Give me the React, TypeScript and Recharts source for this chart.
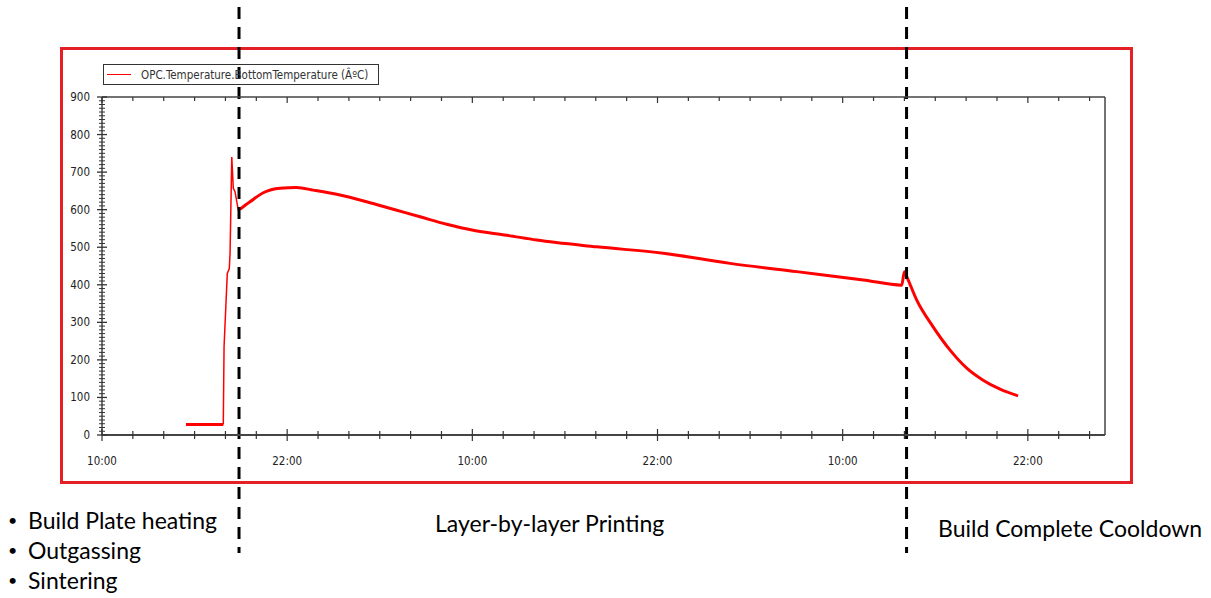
import { LineChart, Line, XAxis, YAxis, ReferenceLine, Legend } from "recharts";

// hours since 10:00 on day one
const flatHours = [5.44, 7.86];
const flatTemp = [28, 28];

const rampHours = [7.86, 7.91, 8.12, 8.25, 8.3, 8.41, 8.51, 8.62, 8.83, 8.94];
const rampTemp = [28, 235, 430, 443, 485, 740, 657, 648, 599, 601];

const buildHours = [
  8.94, 9.59, 10.45, 11.54, 12.62, 13.69, 15.42, 17.15, 18.88, 20.61, 22.34,
  24.06, 26.23, 28.17, 32.06, 36.38, 40.7, 45.02, 49.34, 51.83, 52.0, 52.15,
  52.8, 53.86, 54.96, 56.04, 57.1, 58.2, 59.37,
];
const buildTemp = [
  601, 621, 645, 657, 659, 652, 639, 621, 601, 581, 561, 545, 532, 519, 501,
  484, 457, 435, 413, 399, 435, 422, 359, 288, 226, 178, 146, 122, 104,
];

const phaseMarks = [8.88, 52.14];
const clockLabels = ["10:00", "22:00"];
const hourTicks = Array.from({ length: 33 }, (_, i) => i * 2);
const tempTicks = Array.from({ length: 91 }, (_, i) => i * 10);

const legendLabel = "OPC.Temperature.BottomTemperature (ÂºC)";
const phase1Items = ["Build Plate heating", "Outgassing", "Sintering"];

type Row = { t: number; temp?: number; ramp?: number };
const data: Row[] = [
  ...flatHours.map((t, i) => ({ t, temp: flatTemp[i] })),
  ...rampHours.map((t, i) => ({ t, ramp: rampTemp[i] })),
  ...buildHours.map((t, i) => ({ t, temp: buildTemp[i] })),
].sort((a, b) => a.t - b.t);

const axisColor = "#333";
const tickFont = "'DejaVu Sans Condensed', 'DejaVu Sans', sans-serif";

const BottomTick = ({ x, y, payload }: any) => {
  const major = payload.value % 12 === 0;
  const h = major ? 6 : 4;
  return (
    <g>
      <line x1={x} x2={x} y1={y - h} y2={y + h} stroke={axisColor} strokeWidth={1.2} />
      {major && (
        <text x={x} y={y + 30} textAnchor="middle" fontSize={11.5} fontFamily={tickFont} fill="#222">
          {clockLabels[(payload.value / 12) % 2]}
        </text>
      )}
    </g>
  );
};

const TopTick = ({ x, y, payload }: any) => {
  const major = payload.value % 12 === 0;
  return <line x1={x} x2={x} y1={y} y2={y + (major ? 6 : 4)} stroke={axisColor} strokeWidth={1.2} />;
};

const LeftTick = ({ x, y, payload }: any) => {
  const major = payload.value % 100 === 0;
  const w = major ? 5 : 3;
  return (
    <g>
      <line x1={x - w} x2={x + w} y1={y} y2={y} stroke={axisColor} strokeWidth={major ? 1.3 : 1} />
      {major && (
        <text x={x - 12} y={y + 4} textAnchor="end" fontSize={11.5} fontFamily={tickFont} fill="#222">
          {payload.value}
        </text>
      )}
    </g>
  );
};

const RightTick = ({ x, y, payload }: any) => {
  const major = payload.value % 100 === 0;
  return <line x1={x - (major ? 5 : 3)} x2={x} y1={y} y2={y} stroke={axisColor} strokeWidth={1} />;
};

const LegendBox = () => (
  <div
    style={{
      border: "1px solid #333",
      height: 21,
      width: 276,
      display: "flex",
      alignItems: "center",
      boxSizing: "border-box",
      fontFamily: tickFont,
      fontSize: 11.5,
      color: "#333",
      whiteSpace: "nowrap",
    }}
  >
    <span style={{ display: "inline-block", width: 24, height: 0, borderTop: "1.5px solid #ff0000", marginLeft: 3, marginRight: 10 }} />
    {legendLabel}
  </div>
);

const DashedMark = (p: any) => (
  <line x1={p.x1} x2={p.x2} y1={7} y2={553} stroke="#000" strokeWidth={3} strokeDasharray="12 8" />
);

const textFont = "Lato, 'Open Sans', sans-serif";
const noteStyle = {
  position: "absolute" as const,
  fontFamily: textFont,
  fontSize: 23,
  color: "#000",
  lineHeight: "30px",
  whiteSpace: "nowrap" as const,
};

export default function App() {
  return (
    <div style={{ position: "absolute", left: 0, top: 0, width: 1211, height: 598, background: "#fff" }}>
      <div
        style={{
          position: "absolute",
          left: 60,
          top: 47,
          width: 1073,
          height: 437,
          border: "3px solid #e41f26",
          boxSizing: "border-box",
        }}
      />
      <LineChart
        width={1211}
        height={598}
        data={data}
        margin={{ top: 87, right: 96, left: 62, bottom: 123 }}
        style={{ position: "absolute", left: 0, top: 0 }}
      >
        <XAxis
          dataKey="t"
          type="number"
          domain={[0, 65]}
          ticks={hourTicks}
          interval={0}
          tickSize={0}
          tickMargin={0}
          height={40}
          axisLine={{ stroke: "#444", strokeWidth: 2 }}
          tick={<BottomTick />}
        />
        <XAxis
          xAxisId="top"
          orientation="top"
          dataKey="t"
          type="number"
          domain={[0, 65]}
          ticks={hourTicks}
          interval={0}
          tickSize={0}
          tickMargin={0}
          height={10}
          axisLine={{ stroke: "#444", strokeWidth: 1.5 }}
          tick={<TopTick />}
        />
        <YAxis
          type="number"
          domain={[0, 900]}
          ticks={tempTicks}
          interval={0}
          tickSize={0}
          tickMargin={0}
          width={40}
          axisLine={{ stroke: "#444", strokeWidth: 1.5 }}
          tick={<LeftTick />}
        />
        <YAxis
          yAxisId="r"
          orientation="right"
          type="number"
          domain={[0, 900]}
          ticks={tempTicks}
          interval={0}
          tickSize={0}
          tickMargin={0}
          width={10}
          axisLine={{ stroke: "#444", strokeWidth: 1.5 }}
          tick={<RightTick />}
        />
        <Legend
          layout="vertical"
          align="center"
          verticalAlign="middle"
          wrapperStyle={{ left: 103, top: 64, width: "auto" }}
          content={<LegendBox />}
        />
        <Line
          dataKey="temp"
          stroke="#ff0000"
          strokeWidth={3}
          dot={false}
          activeDot={false}
          type="monotone"
          isAnimationActive={false}
        />
        <Line
          dataKey="ramp"
          stroke="#ff0000"
          strokeWidth={1.5}
          dot={false}
          activeDot={false}
          type="linear"
          isAnimationActive={false}
        />
        {phaseMarks.map((m) => (
          <ReferenceLine key={m} x={m} shape={<DashedMark />} />
        ))}
      </LineChart>
      <div style={{ ...noteStyle, left: 8, top: 505 }}>
        {phase1Items.map((s) => (
          <div key={s}>
            <span style={{ display: "inline-block", width: 20, fontSize: 16, verticalAlign: "top" }}>•</span>
            {s}
          </div>
        ))}
      </div>
      <div style={{ ...noteStyle, left: 435, top: 508 }}>Layer-by-layer Printing</div>
      <div style={{ ...noteStyle, left: 938, top: 513 }}>Build Complete Cooldown</div>
    </div>
  );
}
